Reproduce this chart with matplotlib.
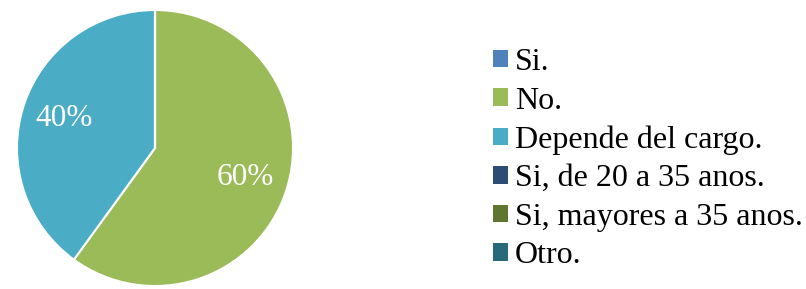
import matplotlib
matplotlib.use("Agg")
import matplotlib.pyplot as plt

categories = ["Si.", "No.", "Depende del cargo.", "Si, de 20 a 35 anos.",
              "Si, mayores a 35 anos.", "Otro."]
values = [0, 60, 40, 0, 0, 0]
colors = ["#4F81BD", "#9BBB59", "#4BACC6", "#2C4D75", "#5F7530", "#276A7C"]

W, H = 806, 289
fig = plt.figure(figsize=(W / 100, H / 100), dpi=100)

cx, cy, r = 155, 141, 138
ax = fig.add_axes([(cx - r) / W, (cy - r) / H, 2 * r / W, 2 * r / H])

def fmt(p):
    return f"{p:.0f}%" if p > 0.5 else ""

wedges, texts, autotexts = ax.pie(
    values, colors=colors, startangle=90, counterclock=False,
    autopct=fmt, pctdistance=0.69, radius=1,
    wedgeprops=dict(edgecolor="white", linewidth=1.5),
    textprops=dict(color="white", fontsize=22.5, family="Liberation Serif"),
)
ax.set_xlim(-1.0, 1.0)
ax.set_ylim(-1.0, 1.0)
ax.set_aspect("equal")
ax.axis("off")

leg = fig.legend(
    wedges, categories, loc="upper left",
    bbox_to_anchor=(493 / W, 1 - 48 / H), frameon=False,
    prop=dict(family="Liberation Serif", size=23),
    handlelength=0.47, handleheight=0.47, handletextpad=0.22,
    labelspacing=0.3, borderpad=0, borderaxespad=0,
)
for h in leg.legend_handles:
    h.set_edgecolor("none")

fig.savefig("out.png", dpi=100)
